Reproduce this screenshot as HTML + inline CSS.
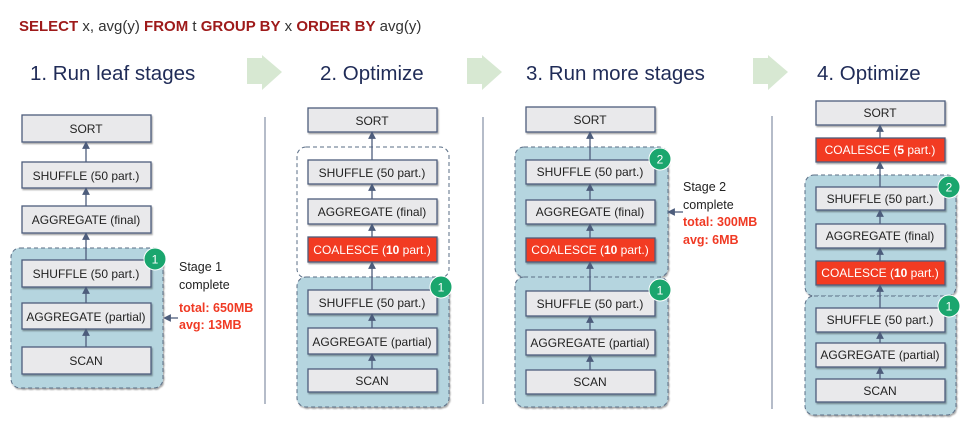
<!DOCTYPE html>
<html><head><meta charset="utf-8"><style>
html,body{margin:0;padding:0;background:#fff;}
svg{display:block;font-family:"Liberation Sans",sans-serif;}
.b{fill:#e9e9eb;stroke:#4d5d7c;stroke-width:1.3;}
.r{fill:#f23b22;stroke:#4d5d7c;stroke-width:1.3;}
.t{font-size:12px;fill:#222;text-anchor:middle;}
.tw{font-size:12px;fill:#fff;text-anchor:middle;}
.c{fill:#b5d5df;stroke:#5a6e86;stroke-width:1;stroke-dasharray:4 3;}
.cw{fill:#fff;stroke:#5a6e86;stroke-width:1;stroke-dasharray:4 3;}
.h{font-size:20.5px;fill:#1f2b57;}
.ln{stroke:#4d5d7c;stroke-width:1.3;}
.bd{fill:#1aa66e;stroke:#fff;stroke-width:1;}
.bt{font-size:12px;fill:#fff;text-anchor:middle;}
.s{font-size:12.5px;fill:#222;}
.sr{font-size:12.5px;fill:#f03a24;font-weight:bold;}
.ar{fill:#d7e8d2;}
</style></head><body>
<svg width="973" height="424" viewBox="0 0 973 424">
<defs><marker id="m" markerWidth="6" markerHeight="6" refX="3" refY="3" orient="auto"><path d="M0,0 L6,3 L0,6 z" fill="#4d5d7c"/></marker>
<filter id="sh"><feDropShadow dx="1" dy="1.5" stdDeviation="0.8" flood-opacity="0.35"/></filter></defs>

<text x="19" y="31" style="font-size:15px" fill="#333"><tspan font-weight="bold" fill="#9e1a1a">SELECT</tspan> x, avg(y) <tspan font-weight="bold" fill="#9e1a1a">FROM</tspan> t <tspan font-weight="bold" fill="#9e1a1a">GROUP BY</tspan> x <tspan font-weight="bold" fill="#9e1a1a">ORDER BY</tspan> avg(y)</text>

<text class="h" x="30" y="80">1.  Run leaf stages</text>
<text class="h" x="320" y="80">2. Optimize</text>
<text class="h" x="526" y="80">3. Run more stages</text>
<text class="h" x="817" y="80">4. Optimize</text>
<path class="ar" d="M247,58 H262 V55 L282,72 L262,90 V84 H247 Z"/>
<path class="ar" d="M467,58 H482 V55 L502,72 L482,90 V84 H467 Z"/>
<path class="ar" d="M753,58 H768 V55 L788,72 L768,90 V84 H753 Z"/>

<line x1="265" y1="117" x2="265" y2="404" stroke="#6b7a93" stroke-width="1"/>
<line x1="483" y1="117" x2="483" y2="404" stroke="#6b7a93" stroke-width="1"/>
<line x1="772" y1="116" x2="772" y2="409" stroke="#6b7a93" stroke-width="1"/>

<!-- Panel 1 -->
<rect class="c" x="11" y="248" width="152" height="140" rx="9" filter="url(#sh)"/>
<g filter="url(#sh)">
<rect class="b" x="22" y="115" width="129" height="27"/>
<rect class="b" x="22" y="162" width="129" height="26"/>
<rect class="b" x="22" y="206" width="129" height="27"/>
<rect class="b" x="22" y="260" width="129" height="27"/>
<rect class="b" x="22" y="303" width="129" height="26"/>
<rect class="b" x="22" y="347" width="129" height="27"/>
</g>
<text class="t" x="86" y="133">SORT</text>
<text class="t" x="86" y="180">SHUFFLE (50 part.)</text>
<text class="t" x="86" y="224">AGGREGATE (final)</text>
<text class="t" x="86" y="278">SHUFFLE (50 part.)</text>
<text class="t" x="86" y="321">AGGREGATE (partial)</text>
<text class="t" x="86" y="365">SCAN</text>
<line class="ln" x1="86" y1="162" x2="86" y2="145" marker-end="url(#m)"/>
<line class="ln" x1="86" y1="206" x2="86" y2="191" marker-end="url(#m)"/>
<line class="ln" x1="86" y1="260" x2="86" y2="236" marker-end="url(#m)"/>
<line class="ln" x1="86" y1="303" x2="86" y2="290" marker-end="url(#m)"/>
<line class="ln" x1="86" y1="347" x2="86" y2="332" marker-end="url(#m)"/>
<circle class="bd" cx="155" cy="259" r="11"/><text class="bt" x="155" y="263.5">1</text>
<line class="ln" x1="178" y1="318" x2="167" y2="318" marker-end="url(#m)"/>
<text class="s" x="179" y="271">Stage 1</text>
<text class="s" x="179" y="289">complete</text>
<text class="sr" x="179" y="312">total: 650MB</text>
<text class="sr" x="179" y="329">avg: 13MB</text>

<!-- Panel 2 -->
<rect class="cw" x="297" y="147" width="152" height="131" rx="9"/>
<rect class="c" x="297" y="277" width="152" height="130" rx="9" filter="url(#sh)"/>
<g filter="url(#sh)">
<rect class="b" x="308" y="108" width="129" height="24"/>
<rect class="b" x="308" y="160" width="129" height="24"/>
<rect class="b" x="308" y="199" width="129" height="25"/>
<rect class="r" x="308" y="237" width="129" height="25"/>
<rect class="b" x="308" y="290" width="129" height="24"/>
<rect class="b" x="308" y="328" width="129" height="26"/>
<rect class="b" x="308" y="369" width="129" height="23"/>
</g>
<text class="t" x="372" y="125">SORT</text>
<text class="t" x="372" y="177">SHUFFLE (50 part.)</text>
<text class="t" x="372" y="216">AGGREGATE (final)</text>
<text class="tw" x="372" y="254">COALESCE (<tspan font-weight="bold">10</tspan> part.)</text>
<text class="t" x="372" y="307">SHUFFLE (50 part.)</text>
<text class="t" x="372" y="346">AGGREGATE (partial)</text>
<text class="t" x="372" y="385">SCAN</text>
<line class="ln" x1="372" y1="160" x2="372" y2="135" marker-end="url(#m)"/>
<line class="ln" x1="372" y1="199" x2="372" y2="187" marker-end="url(#m)"/>
<line class="ln" x1="372" y1="237" x2="372" y2="227" marker-end="url(#m)"/>
<line class="ln" x1="372" y1="290" x2="372" y2="265" marker-end="url(#m)"/>
<line class="ln" x1="372" y1="328" x2="372" y2="317" marker-end="url(#m)"/>
<line class="ln" x1="372" y1="369" x2="372" y2="357" marker-end="url(#m)"/>
<circle class="bd" cx="441" cy="287" r="11"/><text class="bt" x="441" y="291.5">1</text>

<!-- Panel 3 -->
<rect class="c" x="515" y="147" width="153" height="130" rx="9" filter="url(#sh)"/>
<rect class="c" x="515" y="277" width="153" height="130" rx="9" filter="url(#sh)"/>
<g filter="url(#sh)">
<rect class="b" x="526" y="107" width="129" height="25"/>
<rect class="b" x="526" y="160" width="129" height="24"/>
<rect class="b" x="526" y="200" width="129" height="24"/>
<rect class="r" x="526" y="238" width="129" height="24"/>
<rect class="b" x="526" y="291" width="129" height="25"/>
<rect class="b" x="526" y="330" width="129" height="25"/>
<rect class="b" x="526" y="370" width="129" height="24"/>
</g>
<text class="t" x="590" y="124">SORT</text>
<text class="t" x="590" y="176">SHUFFLE (50 part.)</text>
<text class="t" x="590" y="216">AGGREGATE (final)</text>
<text class="tw" x="590" y="254">COALESCE (<tspan font-weight="bold">10</tspan> part.)</text>
<text class="t" x="590" y="308">SHUFFLE (50 part.)</text>
<text class="t" x="590" y="347">AGGREGATE (partial)</text>
<text class="t" x="590" y="386">SCAN</text>
<line class="ln" x1="590" y1="160" x2="590" y2="135" marker-end="url(#m)"/>
<line class="ln" x1="590" y1="200" x2="590" y2="187" marker-end="url(#m)"/>
<line class="ln" x1="590" y1="238" x2="590" y2="227" marker-end="url(#m)"/>
<line class="ln" x1="590" y1="291" x2="590" y2="265" marker-end="url(#m)"/>
<line class="ln" x1="590" y1="330" x2="590" y2="319" marker-end="url(#m)"/>
<line class="ln" x1="590" y1="370" x2="590" y2="358" marker-end="url(#m)"/>
<circle class="bd" cx="660" cy="159" r="11"/><text class="bt" x="660" y="163.5">2</text>
<circle class="bd" cx="660" cy="290" r="11"/><text class="bt" x="660" y="294.5">1</text>
<line class="ln" x1="683" y1="212" x2="671" y2="212" marker-end="url(#m)"/>
<text class="s" x="683" y="191">Stage 2</text>
<text class="s" x="683" y="209">complete</text>
<text class="sr" x="683" y="226">total: 300MB</text>
<text class="sr" x="683" y="244">avg: 6MB</text>

<!-- Panel 4 -->
<rect class="c" x="805" y="175" width="151" height="121" rx="9" filter="url(#sh)"/>
<rect class="c" x="805" y="296" width="151" height="119" rx="9" filter="url(#sh)"/>
<g filter="url(#sh)">
<rect class="b" x="816" y="101" width="129" height="24"/>
<rect class="r" x="816" y="138" width="129" height="24"/>
<rect class="b" x="816" y="187" width="129" height="23"/>
<rect class="b" x="816" y="224" width="129" height="24"/>
<rect class="r" x="816" y="261" width="129" height="24"/>
<rect class="b" x="816" y="308" width="129" height="24"/>
<rect class="b" x="816" y="343" width="129" height="24"/>
<rect class="b" x="816" y="379" width="129" height="23"/>
</g>
<text class="t" x="880" y="117">SORT</text>
<text class="tw" x="880" y="154">COALESCE (<tspan font-weight="bold">5</tspan> part.)</text>
<text class="t" x="880" y="203">SHUFFLE (50 part.)</text>
<text class="t" x="880" y="240">AGGREGATE (final)</text>
<text class="tw" x="880" y="277">COALESCE (<tspan font-weight="bold">10</tspan> part.)</text>
<text class="t" x="880" y="324">SHUFFLE (50 part.)</text>
<text class="t" x="880" y="359">AGGREGATE (partial)</text>
<text class="t" x="880" y="395">SCAN</text>
<line class="ln" x1="880" y1="138" x2="880" y2="128" marker-end="url(#m)"/>
<line class="ln" x1="880" y1="187" x2="880" y2="165" marker-end="url(#m)"/>
<line class="ln" x1="880" y1="224" x2="880" y2="213" marker-end="url(#m)"/>
<line class="ln" x1="880" y1="261" x2="880" y2="251" marker-end="url(#m)"/>
<line class="ln" x1="880" y1="308" x2="880" y2="288" marker-end="url(#m)"/>
<line class="ln" x1="880" y1="343" x2="880" y2="335" marker-end="url(#m)"/>
<line class="ln" x1="880" y1="379" x2="880" y2="370" marker-end="url(#m)"/>
<circle class="bd" cx="949" cy="187" r="11"/><text class="bt" x="949" y="191.5">2</text>
<circle class="bd" cx="949" cy="306" r="11"/><text class="bt" x="949" y="310.5">1</text>
</svg>
</body></html>
